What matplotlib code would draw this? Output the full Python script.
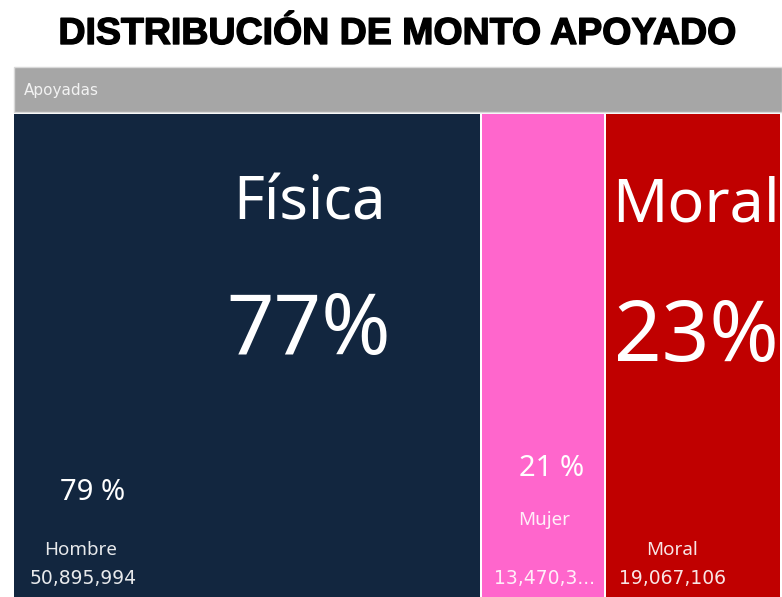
import numpy as np
import matplotlib.pyplot as plt
from matplotlib.patches import Rectangle
import matplotlib.patheffects as pe

# Datos del treemap
categorias = ['Hombre', 'Mujer', 'Moral']
montos = [50895994, 13470300, 19067106]
etiquetas_monto = ['50,895,994', '13,470,3...', '19,067,106']
pct_hijo = ['79 %', '21 %', '']
colores = ['#12263f', '#ff66cc', '#c00000']
grupos = ['Física', 'Moral']
pct_grupo = ['77%', '23%']

W, H = 782, 597
fig = plt.figure(figsize=(W / 100, H / 100), dpi=100)
ax = fig.add_axes([0, 0, 1, 1])
ax.set_xlim(0, W)
ax.set_ylim(H, 0)
ax.axis('off')

ax.text(W / 2 + 6, 34, 'DISTRIBUCIÓN DE MONTO APOYADO', ha='center', va='center',
        fontsize=27, fontweight='bold', family='Liberation Sans', color='black',
        path_effects=[pe.withStroke(linewidth=1.0, foreground='black')])

# Encabezado gris
x0, x1 = 14, W
ax.add_patch(Rectangle((x0, 67), x1 - x0, 45, facecolor='#a6a6a6', edgecolor='#d9d9d9', lw=1))
ax.text(x0 + 10, 91, 'Apoyadas', ha='left', va='center', fontsize=11,
        color='#f2f2f2', family='DejaVu Sans')

# Bloques
y_top = 114
total = np.sum(montos)
lefts = x0 + (x1 - x0) * np.concatenate([[0], np.cumsum(montos)[:-1]]) / total
widths = (x1 - x0) * np.array(montos) / total
for l, w, c in zip(lefts, widths, colores):
    ax.add_patch(Rectangle((l, y_top), w - 2, H - y_top, facecolor=c, edgecolor='none'))

fuente = 'Noto Sans'
# Grupo Física (Hombre + Mujer)
fis_centro = lefts[0] + widths[0] * 0.63
ax.text(fis_centro, 204, grupos[0], ha='center', va='center', fontsize=43, color='white', family=fuente)
ax.text(fis_centro, 332, pct_grupo[0], ha='center', va='center', fontsize=60, color='white', family=fuente)
mor_centro = lefts[2] + widths[2] / 2 + 2
ax.text(mor_centro, 206, grupos[1], ha='center', va='center', fontsize=44, color='white', family=fuente)
ax.text(mor_centro, 339, pct_grupo[1], ha='center', va='center', fontsize=60, color='white', family=fuente)

# Etiquetas de cada bloque
cx = [lefts[0] + 67, lefts[1] + widths[1] / 2, lefts[2] + 66]
y_pct = [493, 469, None]
y_nom = [550, 520, 550]
for i, cat in enumerate(categorias):
    if pct_hijo[i]:
        ax.text(cx[i] + (12 if i == 0 else 7), y_pct[i], pct_hijo[i], ha='center', va='center',
                fontsize=21, color='white', family=fuente)
    ax.text(cx[i], y_nom[i], cat, ha='center', va='center', fontsize=13.5, fontweight='semibold',
            color='white', alpha=0.9, family=fuente)
    ax.text(cx[i] + (2 if i == 0 else 0), 578, etiquetas_monto[i], ha='center', va='center',
            fontsize=13.5, color='white', alpha=0.9, family='DejaVu Sans')

fig.savefig('out.png', dpi=100)
